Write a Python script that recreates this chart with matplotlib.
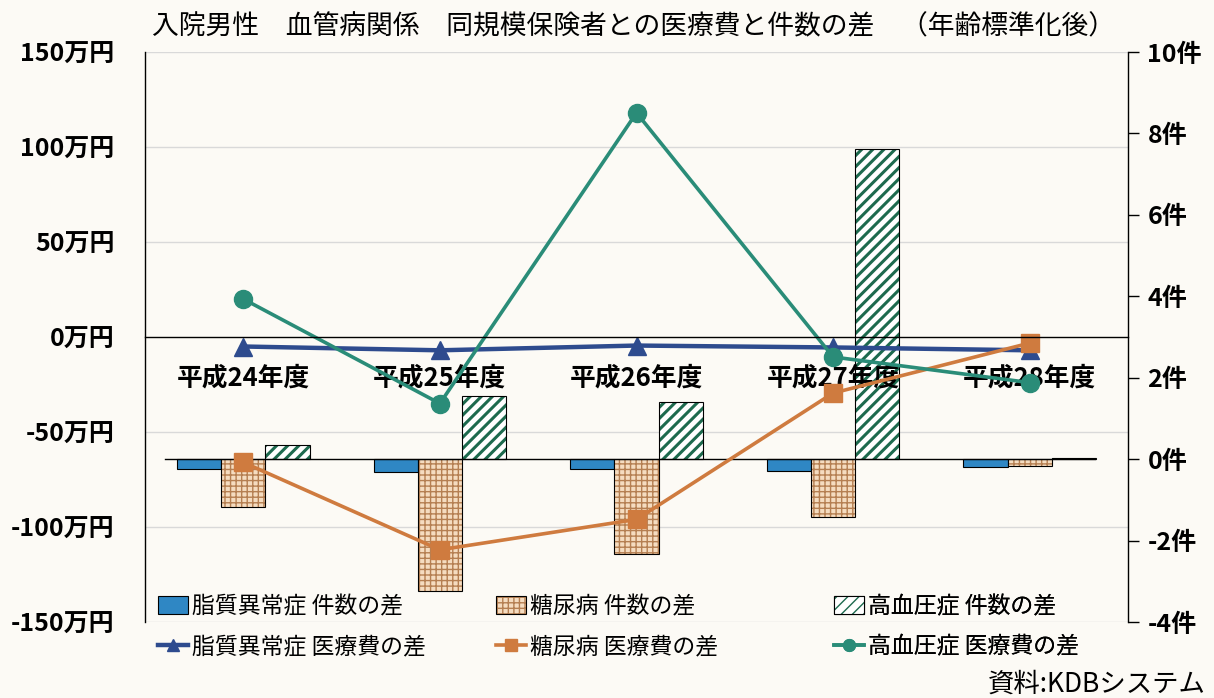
import matplotlib
matplotlib.use('Agg')
import matplotlib.pyplot as plt
import matplotlib.transforms as mtrans
import numpy as np

plt.rcParams['font.family'] = ['Noto Sans CJK JP', 'DejaVu Sans']

# ---------------- data ----------------
years = ['平成24年度', '平成25年度', '平成26年度', '平成27年度', '平成28年度']
lipid_count = [-0.25, -0.32, -0.24, -0.30, -0.20]      # 件
diabetes_count = [-1.17, -3.25, -2.33, -1.42, -0.17]   # 件
htn_count = [0.35, 1.55, 1.40, 7.62, 0.03]             # 件
lipid_cost = [-5, -7, -4.5, -5.5, -7]                  # 万円
diabetes_cost = [-66, -112, -96, -29.5, -3.2]          # 万円
htn_cost = [20, -35, 118, -10.5, -24]                  # 万円
left_ticks = [-150, -100, -50, 0, 50, 100, 150]
right_ticks = [-4, -2, 0, 2, 4, 6, 8, 10]
labels_count = ['脂質異常症 件数の差', '糖尿病 件数の差', '高血圧症 件数の差']
labels_cost = ['脂質異常症 医療費の差', '糖尿病 医療費の差', '高血圧症 医療費の差']
title = '入院男性　血管病関係　同規模保険者との医療費と件数の差　（年齢標準化後）'
source = '資料:KDBシステム'

# ---------------- style ----------------
BG = '#fcfaf5'
C_LIPID_BAR = '#2f87c4'
C_LIPID_LINE = '#2e4b8e'
C_DIAB_FACE = '#f5dcc0'
C_DIAB_HATCH = '#b57f52'
C_DIAB_LINE = '#cf7b3f'
C_HTN_HATCH = '#1d6a4e'
C_HTN_LINE = '#2a8c78'
GRID = '#d9d9d9'

fig = plt.figure(figsize=(12.14, 6.98), dpi=100, facecolor=BG)
ax = fig.add_axes([145/1214, 1-622/698, (1128-145)/1214, (622-52)/698])
axb = ax.twinx()
ax.set_zorder(axb.get_zorder() + 1)
ax.patch.set_visible(False)
axb.patch.set_facecolor(BG)

ax.spines['bottom'].set_position(('data', 0))

x = np.arange(len(years))
w = 0.225

ax.set_xlim(-0.5, len(years) - 0.5)
ax.set_ylim(-150, 150)
axb.set_ylim(-4, 10)

# gridlines at the left-axis ticks, drawn beneath the bars
trans = mtrans.blended_transform_factory(axb.transAxes, ax.transData)
axb.hlines([t for t in left_ticks if t != 0], 0, 1, transform=trans,
           color=GRID, linewidth=1.0, zorder=0)

# bars (right axis)
b1 = axb.bar(x - w, lipid_count, w, color=C_LIPID_BAR, edgecolor='black', linewidth=0.8, zorder=2)
with plt.rc_context({'hatch.linewidth': 1.0}):
    b2h = axb.bar(x, diabetes_count, w, color=C_DIAB_FACE, edgecolor=C_DIAB_HATCH,
                  hatch='+++', linewidth=0, zorder=2)
b2o = axb.bar(x, diabetes_count, w, fill=False, edgecolor='black', linewidth=0.8, zorder=2)
with plt.rc_context({'hatch.linewidth': 2.2}):
    b3h = axb.bar(x + w, htn_count, w, color='white', edgecolor=C_HTN_HATCH,
                  hatch='///', linewidth=0, zorder=2)
b3o = axb.bar(x + w, htn_count, w, fill=False, edgecolor='black', linewidth=0.8, zorder=2)
axb.axhline(0, xmin=0.02, xmax=0.966, color='black', linewidth=1.0, zorder=3)

# lines (left axis)
l1, = ax.plot(x, lipid_cost, color=C_LIPID_LINE, lw=3.2, marker='^', ms=13,
              label=labels_cost[0])
l2, = ax.plot(x, diabetes_cost, color=C_DIAB_LINE, lw=2.6, marker='s', ms=13,
              label=labels_cost[1])
l3, = ax.plot(x, htn_cost, color=C_HTN_LINE, lw=2.6, marker='o', ms=13,
              label=labels_cost[2])

# axes setup
ax.set_yticks(left_ticks)
ax.set_yticklabels([f'{v}万円' for v in left_ticks], fontsize=18, fontweight='bold')
ax.tick_params(axis='y', length=0, pad=22)
axb.set_yticks(right_ticks)
axb.set_yticklabels([f'{v}件' for v in right_ticks], fontsize=18, fontweight='bold')
axb.tick_params(axis='y', length=8, width=1, pad=6, direction='out')

ax.set_xticks(x)
ax.set_xticklabels(years, fontsize=18.5, fontweight='bold')
ax.tick_params(axis='x', length=0, pad=20)
ax.spines['bottom'].set_linewidth(1.0)
ax.spines['top'].set_visible(False)
ax.spines['right'].set_visible(False)
ax.spines['left'].set_linewidth(1.0)
axb.spines['top'].set_visible(False)
axb.spines['bottom'].set_visible(False)
axb.spines['left'].set_visible(False)
axb.spines['right'].set_linewidth(1.0)

# legends: one column per disease
bar_handles = [b1[0], (b2h[0], b2o[0]), (b3h[0], b3o[0])]
line_handles = [l1, l2, l3]
xs = [158/1214, 496/1214, 834/1214]
for i in range(3):
    leg = ax.legend([bar_handles[i], line_handles[i]], [labels_count[i], labels_cost[i]],
                    loc='upper left', bbox_to_anchor=(xs[i], 1-595/698),
                    bbox_transform=fig.transFigure, frameon=False, fontsize=16.5,
                    handlelength=1.3, handleheight=0.8, handletextpad=0.2,
                    labelspacing=0.75, borderpad=0, borderaxespad=0, markerscale=0.65)
    ax.add_artist(leg)

fig.text(634/1214, 1-27/698, title, ha='center', va='center', fontsize=19.3)
fig.text(1206/1214, 1-684/698, source, ha='right', va='center', fontsize=19)

fig.savefig('out.png', dpi=100, facecolor=BG)
